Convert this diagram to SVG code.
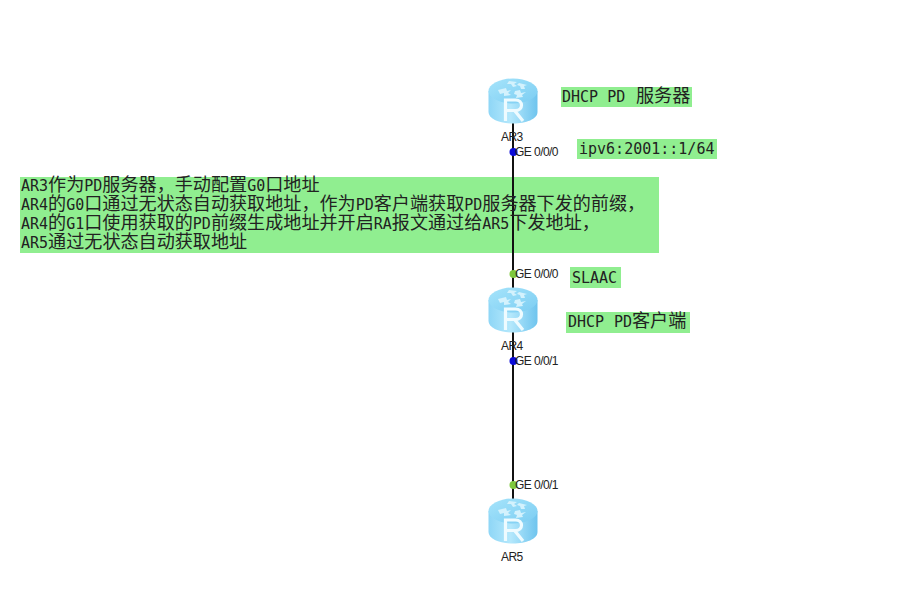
<svg xmlns="http://www.w3.org/2000/svg" width="923" height="602" viewBox="0 0 923 602">
<style>
.bg{fill:#90ee90}
.t{font-family:"DejaVu Sans Mono","Noto Sans CJK SC",monospace;font-size:15px;fill:#222}
.c{font-family:"Noto Sans CJK SC",sans-serif;font-size:18.1px}
.l{font-family:"Liberation Sans",Arial,sans-serif;font-size:12px;fill:#222;letter-spacing:-.55px}
.link{stroke:#111;stroke-width:2;fill:none}
</style>
<defs>
<linearGradient id="side" x1="0" x2="1" y1="0" y2="0"><stop offset="0" stop-color="#8ed6f6"/><stop offset=".45" stop-color="#b4e8fc"/><stop offset="1" stop-color="#6fc4ee"/></linearGradient>
<linearGradient id="top" x1="0" x2="1" y1="0" y2="1"><stop offset="0" stop-color="#a6e4fb"/><stop offset="1" stop-color="#7ccdf2"/></linearGradient>
<g id="router">
<path d="M-24.500-10V11C-24.500 18 -13 22.500 0 22.500S24.500 18 24.500 11V-10Z" fill="url(#side)"/>
<ellipse cx="0" cy="-10" rx="24.500" ry="12.500" fill="url(#top)"/>
<path d="M-4-20l8 1-3 2 3 2-4 1-2-3-4 0zM6-18l8 2-3 1 1 3-4 0-1-3-3-1zM-15-11l8-2 1 3 4-1-3 3 3 2-7 1 0-3-4 1zM2-10l5-1 1 3 5-1-4 3 1 2-7 1 1-3-3-1z" fill="#d4f2fd"/>
<path d="M-7.500 20V-1H2.500C10.500-1 10.500 9.500 2.500 9.500H-7.500M1.500 9.500L10 20" fill="none" stroke="#eefbff" stroke-width="3.200"/>
</g>
</defs>
<rect width="923" height="602" fill="#fff"/>
<rect class="bg" x="561" y="87" width="131" height="20"/>
<rect class="bg" x="577" y="139" width="140" height="20"/>
<rect class="bg" x="20" y="177" width="639" height="76"/>
<rect class="bg" x="570" y="267" width="51" height="21"/>
<rect class="bg" x="566" y="312" width="124" height="21"/>
<g id="connectors">
<path class="link" d="M513 120V510"/>
<circle cx="513.500" cy="152" r="4" fill="#0a0ad8"/>
<circle cx="513.500" cy="274" r="4" fill="#7ec83c"/>
<circle cx="513.500" cy="361" r="4" fill="#0a0ad8"/>
<circle cx="513.500" cy="485" r="4" fill="#7ec83c"/>
<text class="l" x="515" y="156">GE 0/0/0</text>
<text class="l" x="515" y="278">GE 0/0/0</text>
<text class="l" x="515" y="365">GE 0/0/1</text>
<text class="l" x="515" y="489">GE 0/0/1</text>
</g>
<g id="AR3"><use href="#router" x="513" y="101"/><text class="l" x="501" y="141">AR3</text></g>
<g id="AR4"><use href="#router" x="513" y="310"/><text class="l" x="501" y="350">AR4</text></g>
<g id="AR5"><use href="#router" x="513" y="521"/><text class="l" x="501" y="561">AR5</text></g>
<g id="note-ar3"><text class="t" x="562" y="102">DHCP PD <tspan class="c" x="636">服务器</tspan></text></g>
<g id="note-ipv6"><text class="t" x="579" y="154">ipv6:2001::1/64</text></g>
<g id="note-main">
<text class="t" x="21" y="191">AR3<tspan class="c">作为</tspan>PD<tspan class="c">服务器，手动配置</tspan>G0<tspan class="c">口地址</tspan></text>
<text class="t" x="21" y="210">AR4<tspan class="c">的</tspan>G0<tspan class="c">口通过无状态自动获取地址，作为</tspan>PD<tspan class="c">客户端获取</tspan>PD<tspan class="c">服务器下发的前缀，</tspan></text>
<text class="t" x="21" y="229">AR4<tspan class="c">的</tspan>G1<tspan class="c">口使用获取的</tspan>PD<tspan class="c">前缀生成地址并开启</tspan>RA<tspan class="c">报文通过给</tspan>AR5<tspan class="c">下发地址，</tspan></text>
<text class="t" x="21" y="248">AR5<tspan class="c">通过无状态自动获取地址</tspan></text>
</g>
<g id="note-slaac"><text class="t" x="572" y="283">SLAAC</text></g>
<g id="note-ar4"><text class="t" x="568" y="327">DHCP<tspan x="614">PD</tspan><tspan class="c" x="632">客户端</tspan></text></g>
</svg>
